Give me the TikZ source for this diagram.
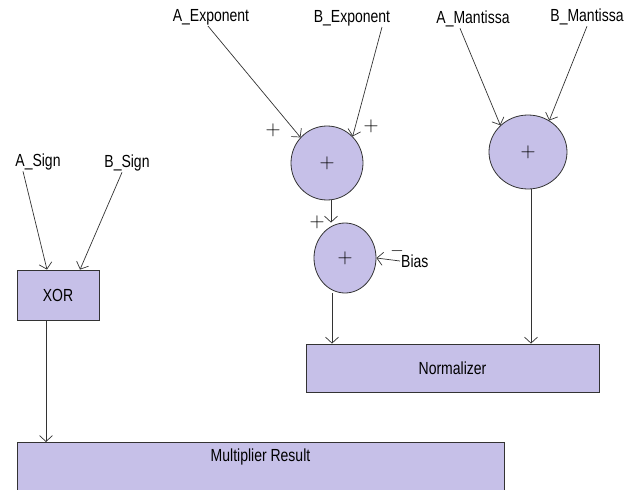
\documentclass[tikz,border=0pt]{standalone}
\usepackage{fontspec}
\setmainfont{Liberation Sans}[FakeStretch=0.8]
\usetikzlibrary{shapes.geometric, arrows.meta, positioning, calc}
\definecolor{blockFill}{HTML}{C6C0E8}
\definecolor{wireGray}{HTML}{333333}

\begin{document}
\begin{tikzpicture}[x=1pt, y=-1pt,
    box/.style={draw=wireGray, fill=blockFill, line width=0.8pt, inner sep=0pt, font=\fontsize{17.5}{20}\selectfont},
    adder/.style={draw=wireGray, ellipse, fill=blockFill, line width=0.8pt, inner sep=0pt, font=\fontsize{20}{22}\selectfont},
    port/.style={font=\fontsize{17.5}{20}\selectfont, inner sep=1pt},
    sgn/.style={font=\fontsize{22}{24}\selectfont, inner sep=0pt},
    wire/.style={draw=wireGray, line width=0.7pt, -{Straight Barb[length=6pt, width=13pt]}},
]
    \clip (0,0) rectangle (625,490);

    \node[box, minimum width=82, minimum height=50] (xor) at (58,295) {XOR};
    \node[box, minimum width=293, minimum height=48] (norm) at (452.5,368) {Normalizer};
    \node[box, minimum width=487, text height=17, text depth=38, inner ysep=2, anchor=north] (mult) at (260.5,442) {Multiplier Result};

    \node[adder, minimum width=72, minimum height=74] (expadd) at (327,163) {$+$};
    \node[adder, minimum width=62, minimum height=70] (biasadd) at (345,258) {$+$};
    \node[adder, minimum width=78, minimum height=74] (manadd) at (528,152) {$+$};

    \node[port] (asign) at (38,162) {A\_Sign};
    \node[port] (bsign) at (127,163) {B\_Sign};
    \node[port] (aexp) at (211,17) {A\_Exponent};
    \node[port] (bexp) at (352,18) {B\_Exponent};
    \node[port] (aman) at (473,19) {A\_Mantissa};
    \node[port] (bman) at (587,17) {B\_Mantissa};
    \node[port, anchor=west] (bias) at (400,261) {Bias};

    \node[sgn] (plusa) at (273,130) {$+$};
    \node[sgn] (plusb) at (371,126) {$+$};
    \node[sgn] (plusc) at (317,222) {$+$};
    \node[sgn, font=\fontsize{16}{18}\selectfont] (minusbias) at (397,251) {$-$};

    \draw[wire] ([xshift=-15]asign.south) -- ([xshift=-11]xor.north);
    \draw[wire] ([xshift=-5]bsign.south) -- ([xshift=22]xor.north);
    \draw[wire] ([xshift=-3]aexp.south) -- (expadd.136);
    \draw[wire] ([xshift=30]bexp.south) -- (expadd.46);
    \draw[wire] ([xshift=-13]aman.south) -- (manadd.136);
    \draw[wire] (bman.south) -- (manadd.56);
    \draw[wire] ([xshift=4]expadd.south) -- ([xshift=4]expadd.south |- biasadd.north);
    \draw[wire] (bias.west) -- (biasadd.east);
    \draw[wire] ([xshift=-13]biasadd.south) -- ([xshift=-13]biasadd.south |- norm.north);
    \draw[wire] ([xshift=3]manadd.south) -- ([xshift=3]manadd.south |- norm.north);
    \draw[wire] ([xshift=-12]xor.south) -- ([xshift=-12]xor.south |- mult.north);
\end{tikzpicture}
\end{document}
